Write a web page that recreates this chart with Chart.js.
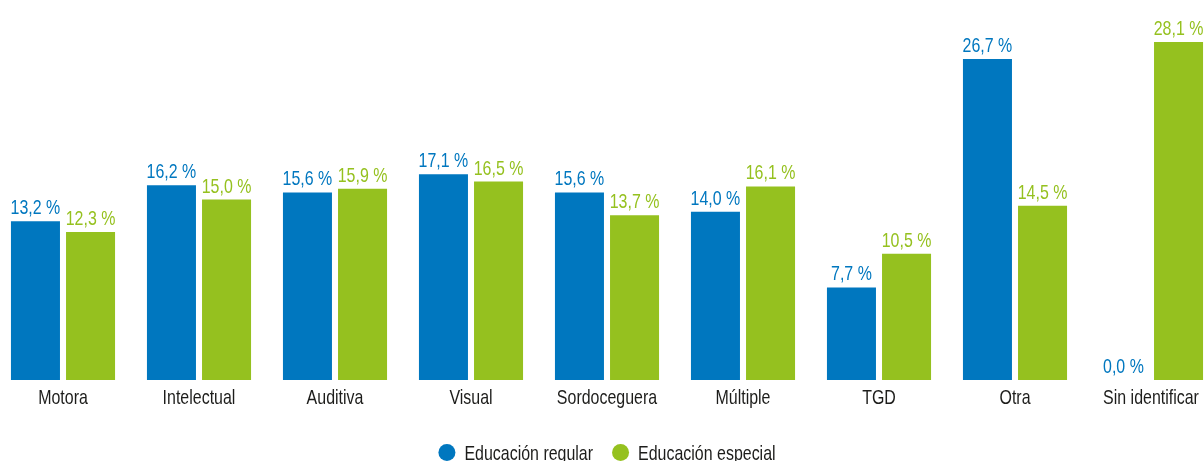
<!DOCTYPE html>
<html>
<head>
<meta charset="utf-8">
<script src="https://cdn.jsdelivr.net/npm/chart.js@4"></script>
<style>
  html, body { margin: 0; padding: 0; background: #fff; overflow: hidden; }
  #wrap { position: absolute; left: -5px; top: 0; width: 1224px; height: 461px; }
</style>
</head>
<body>
<div id="wrap"><canvas id="myChart"></canvas></div>
<script>
const categorias = [ 'Motora', 'Intelectual', 'Auditiva', 'Visual', 'Sordoceguera', 'Múltiple', 'TGD', 'Otra', 'Sin identificar' ];
const regular = [ 13.2, 16.2, 15.6, 17.1, 15.6, 14.0, 7.7, 26.7, 0.0 ];
const especial = [ 12.3, 15.0, 15.9, 16.5, 13.7, 16.1, 10.5, 14.5, 28.1 ];

const AZUL = '#0077bf';
const VERDE = '#95c11f';
const NEGRO = '#1d1d1b';
const FUENTE = '21px "Liberation Sans", Arial, sans-serif';
const SX = 0.76; // estrechamiento horizontal del texto (letra condensada)

// texto estrechado en horizontal
function texto( c, str, x, y, align ) {
    c.save();
    c.translate( x, y );
    c.scale( SX, 1 );
    c.textAlign = align;
    c.fillText( str, 0, 0 );
    c.restore();
}

// etiquetas de valor, nombres de categoría y leyenda
const rotulos = {
    id: 'rotulos',
    afterDraw( chart ) {
        const c = chart.ctx;
        const xs = chart.scales.x;
        c.save();
        c.font = FUENTE;
        c.textBaseline = 'alphabetic';

        chart.data.datasets.forEach( ( ds, i ) => {
            c.fillStyle = ds.backgroundColor;
            chart.getDatasetMeta( i ).data.forEach( ( bar, j ) => {
                const txt = ds.data[ j ].toFixed( 1 ).replace( '.', ',' ) + ' %';
                texto( c, txt, bar.x, bar.y - 7, 'center' );
            });
        });

        c.fillStyle = NEGRO;
        chart.data.labels.forEach( ( lab, i ) => {
            texto( c, lab, xs.getPixelForValue( i ), 404, 'center' );
        });

        // leyenda centrada
        const r = 8.5, gapTxt = 9, gapItem = 19;
        const items = chart.data.datasets.map( ds => ({
            label: ds.label,
            color: ds.backgroundColor,
            w: 2 * r + gapTxt + c.measureText( ds.label ).width * SX
        }));
        const total = items.reduce( ( s, it ) => s + it.w, 0 ) + gapItem * ( items.length - 1 );
        let x = chart.width / 2 - total / 2;
        items.forEach( it => {
            c.fillStyle = it.color;
            c.beginPath();
            c.arc( x + r, 452.5, r, 0, Math.PI * 2 );
            c.fill();
            c.fillStyle = NEGRO;
            texto( c, it.label, x + 2 * r + gapTxt, 460, 'left' );
            x += it.w + gapItem;
        });
        c.restore();
    }
};

const ctx = document.getElementById( 'myChart' ).getContext( '2d' );
new Chart( ctx, {
    type: 'bar',
    data: {
        labels: categorias,
        datasets: [
            { label: 'Educación regular', data: regular, backgroundColor: AZUL },
            { label: 'Educación especial', data: especial, backgroundColor: VERDE }
        ]
    },
    options: {
        responsive: true,
        maintainAspectRatio: false,
        animation: false,
        categoryPercentage: 0.81,
        barPercentage: 0.89,
        layout: { padding: { top: 0, left: 0, right: 0, bottom: 81 } },
        plugins: {
            legend: { display: false },
            tooltip: { enabled: false }
        },
        scales: {
            x: { display: false },
            y: {
                display: false,
                min: 0,
                max: 31.6
            }
        }
    },
    plugins: [ rotulos ]
});
</script>
</body>
</html>
